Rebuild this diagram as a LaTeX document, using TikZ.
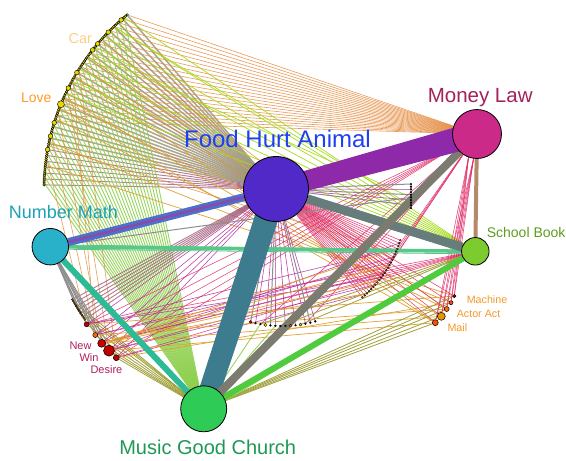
\documentclass[tikz,border=0pt]{standalone}
\usepackage{fontspec}
\setmainfont{Liberation Sans}
\usetikzlibrary{calc}
\pgfdeclarelayer{paper}
\pgfdeclarelayer{thin}
\pgfdeclarelayer{thick}
\pgfsetlayers{paper,thin,thick,main}

\definecolor{fhaFill}{HTML}{5029C8}
\definecolor{fhaText}{HTML}{1E40F0}
\definecolor{mlFill}{HTML}{CC2A88}
\definecolor{mlText}{HTML}{A3225E}
\definecolor{nmFill}{HTML}{29B1CA}
\definecolor{nmText}{HTML}{1CA3B4}
\definecolor{sbFill}{HTML}{7CCB2F}
\definecolor{sbText}{HTML}{5C9E1C}
\definecolor{mgcFill}{HTML}{2ECC57}
\definecolor{mgcText}{HTML}{1E9955}
\definecolor{bPurple}{HTML}{8E2AAA}
\definecolor{bTeal}{HTML}{3D7B8F}
\definecolor{bBlue}{HTML}{4C70CE}
\definecolor{bStripe}{HTML}{8A4AA6}
\definecolor{bSlate}{HTML}{667D7B}
\definecolor{bGray}{HTML}{7B7B70}
\definecolor{bSea}{HTML}{2DBB96}
\definecolor{bMint}{HTML}{58C88A}
\definecolor{bLime}{HTML}{4FCB3D}
\definecolor{bTan}{HTML}{B58A68}
\definecolor{lGB}{HTML}{9E9679}
\definecolor{lOr}{HTML}{E58A3C}
\definecolor{lGr}{HTML}{8FD14F}
\definecolor{lYG}{HTML}{A6DE1E}
\definecolor{lMar}{HTML}{A05A7A}
\definecolor{lGold}{HTML}{E2A233}
\definecolor{lPink}{HTML}{E0306A}
\definecolor{lMag}{HTML}{B02A9A}
\definecolor{lOl}{HTML}{A0A03A}
\definecolor{lGray}{HTML}{8E8E8E}
\definecolor{dotY}{HTML}{E8D800}
\definecolor{carText}{HTML}{FFCF87}
\definecolor{loveText}{HTML}{FF9B2A}
\definecolor{wordRed}{HTML}{B02060}
\definecolor{wordOr}{HTML}{F59A2A}

\begin{document}
\begin{tikzpicture}[x=1pt,y=-1pt,
  hub/.style={circle,draw=black,line width=0.8pt,inner sep=0pt},
  bead/.style={circle,draw=black,line width=0.4pt,inner sep=0pt,minimum size=2.6pt,fill=dotY},
  grain/.style={circle,draw=black,line width=0.3pt,inner sep=0pt,minimum size=2pt,fill=orange!70!black},
  ball/.style={circle,draw=black,line width=0.5pt,inner sep=0pt},
  lgb/.style={draw=lGB,line width=1.5pt,opacity=.85},
  lor/.style={draw=lOr,line width=0.6pt,opacity=.85},
  lgr/.style={draw=lGr,line width=0.9pt,opacity=.9},
  lyg/.style={draw=lYG,line width=0.7pt},
  lmar/.style={draw=lMar,line width=0.9pt,opacity=.8},
  lgold/.style={draw=lGold,line width=0.7pt},
  lpink/.style={draw=lPink,line width=0.55pt,opacity=.9},
  lmag/.style={draw=lMag,line width=0.55pt,opacity=.9},
  lol/.style={draw=lOl,line width=0.8pt},
  lgray/.style={draw=lGray,line width=1pt},
  wordB/.style={font=\fontsize{11}{11}\selectfont,text=wordRed,anchor=base west},
  wordM/.style={font=\fontsize{10.7}{11}\selectfont,text=wordOr,anchor=base west}]

\begin{pgfonlayer}{paper}
  \fill[white] (0,0) rectangle (566,461);
\end{pgfonlayer}
\useasboundingbox (0,0) rectangle (566,461);

% hubs
\node[hub,fill=fhaFill,minimum size=65pt] (fha) at (276,189) {};
\node[hub,fill=mlFill,minimum size=49pt] (ml) at (477,134) {};
\node[hub,fill=nmFill,minimum size=36.5pt] (nm) at (50.3,246.7) {};
\node[hub,fill=sbFill,minimum size=27.5pt] (sb) at (475.3,251.3) {};
\node[hub,fill=mgcFill,minimum size=46pt] (mgc) at (203.7,408.8) {};

% hub labels
\node[font=\fontsize{24}{24}\selectfont,text=fhaText,anchor=base] (fhaLab) at (277.5,147.7) {Food Hurt Animal};
\node[font=\fontsize{20.5}{21}\selectfont,text=mlText,anchor=base] (mlLab) at (480.2,102.3) {Money Law};
\node[font=\fontsize{18}{18}\selectfont,text=nmText,anchor=base] (nmLab) at (63.3,218.3) {Number Math};
\node[font=\fontsize{14}{14}\selectfont,text=sbText,anchor=base west] (sbLab) at (483.3,237.3) {School Book};
\node[font=\fontsize{20}{20}\selectfont,text=mgcText,anchor=base] (mgcLab) at (207.7,454.3) {Music Good Church};

% outer arc of small words
\foreach \i in {0,...,99}{
  \pgfmathsetmacro\th{181.3+0.5*\i}
  \node[bead] (a\i) at ([shift={(\th:226)}]270,190) {};
}
\foreach \i in {95,86,78,74,60,51,32,25,18}{
  \node[bead,minimum size=4.6pt] (A\i) at (a\i) {};
}
\node[bead,minimum size=7pt] (loveDot) at (a42) {};
\node[font=\fontsize{14.5}{15}\selectfont,text=carText,anchor=base west] (carLab) at (65,43.3) {Car};
\node[font=\fontsize{14}{14}\selectfont,text=loveText,anchor=base east] (loveLab) at (55,102.3) {Love};

% lower-left run of the same arc
\foreach \k in {0,...,12}{
  \pgfmathsetmacro\th{151-0.5*\k}
  \node[grain] (l\k) at ([shift={(\th:226)}]270,190) {};
}
\node[ball,fill=red!75!black,minimum size=5pt] (n1) at (86.7,324.3) {};
\node[ball,fill=orange!80!red,minimum size=5pt] (n2) at (95.3,335) {};
\node[ball,fill=red!80!black,minimum size=8pt] (n3) at (101.7,343.3) {};
\node[ball,fill=red!75!black,minimum size=11pt] (n4) at (109,350.7) {};
\node[ball,fill=red!75!black,minimum size=6pt] (n5) at (116.3,357.7) {};
\node[wordB] (newLab) at (66,349.3) {New};
\node[wordB] (winLab) at (76,361) {Win};
\node[wordB] (desLab) at (87,373) {Desire};

% right-hand group
\node[ball,fill=red!60!black,minimum size=3.4pt] (r1) at (454.3,296) {};
\node[ball,fill=orange!60!red,minimum size=4pt] (r2) at (451,302.7) {};
\node[ball,fill=orange!85!red,minimum size=5pt] (r3) at (446.7,309) {};
\node[ball,fill=orange!70!yellow!90!black,minimum size=8pt] (r4) at (441.3,316.3) {};
\node[ball,fill=orange!60!red,minimum size=6pt] (r5) at (435.3,322.7) {};
\node[wordM] (macLab) at (463.3,303.3) {Machine};
\node[wordM] (actLab) at (453.3,317.3) {Actor Act};
\node[wordM] (mailLab) at (444,331.7) {Mail};

% inner rings of tiny words
\foreach \k in {0,...,9}{
  \node[grain,fill=black] (c\k) at (411,{184+\k*24/9}) {};
}
\foreach \k in {0,...,23}{
  \pgfmathsetmacro\th{17+\k*33/23}
  \node[grain] (b\k) at ([shift={(\th:120.5)}]285,205) {};
}
\foreach \k in {0,...,13}{
  \pgfmathsetmacro\th{104.9-\k*30.7/13}
  \node[grain,fill=black] (d\k) at ([shift={(\th:122)}]282,204) {};
}
\node[grain,fill=red!80!black,minimum size=3pt] (D0) at (d0) {};
\node[grain,fill=dotY,minimum size=3.4pt] (D3) at (d3) {};
\node[grain,fill=orange,minimum size=3pt] (D8) at (d8) {};
\node[grain,fill=dotY,minimum size=3pt] (D10) at (d10) {};

% thin connectors
\begin{pgfonlayer}{thin}
  \foreach \i in {21,24,...,99} \draw[lgb] (a\i) -- (fha);
  \foreach \i in {0,3,...,18} \draw[lmar] (a\i) -- (fha);
  \foreach \i in {33,36,...,99} \draw[lor] (a\i) -- (ml);
  \foreach \i in {1,4,...,97} \draw[lgr] (a\i) -- (mgc);
  \foreach \i in {48,55,...,97} \draw[lyg] (a\i) -- (sb);
  \foreach \i/\k in {72/5,90/8} \draw[lyg] (a\i) -- (c\k);
  \foreach \i/\k in {10/1,22/2,34/3,46/4,58/5,70/3,40/5} \draw[lgold] (a\i) -- (r\k);
  \foreach \i/\k in {14/1,26/2,38/3,50/4,62/5,56/2} \draw[lor] (a\i) -- (n\k);
  \foreach \i/\k in {20/4,44/10,64/12,80/7} \draw[lor] (a\i) -- (b\k);

  \foreach \k in {0,2,...,12} \draw[lmar] (l\k) -- (fha);
  \foreach \k in {1,5,9} \draw[lol] (l\k) -- (mgc);
  \foreach \k in {1,...,5} \draw[lgray] (nm) -- (n\k);
  \foreach \k in {3,8} \draw[lgray] (nm) -- (l\k);

  \foreach \k in {1,...,5}{
    \draw[lpink] (n\k) -- (ml.210);
    \draw[lpink] (n\k) -- (sb);
    \draw[lol] (n\k) -- (mgc);
    \draw[lmag] (fha) -- (n\k);
  }
  \foreach \k/\j in {1/3,2/8,3/12,4/17,5/21,1/14,3/6,4/1} \draw[lmag] (n\k) -- (b\j);
  \foreach \k/\j in {1/1,2/3,3/4,4/5,5/2} \draw[lgold] (n\k) -- (r\j);

  \foreach \k in {0,...,23} \draw[lpink] (fha) -- (b\k);
  \foreach \k in {1,3,...,13} \draw[lmag] (fha) -- (d\k);
  \foreach \k in {0,4,12} \draw[lgray] (fha) -- (d\k);
  \foreach \k in {0,4,8} \draw[lgray] (fha) -- (c\k);
  \foreach \k in {2,6} \draw[lmag] (fha) -- (c\k);
  \foreach \k in {1,...,5} \draw[lpink] (fha) -- (r\k);

  \foreach \k in {1,...,5}{
    \draw[lpink] (ml.250) -- (r\k);
    \draw[lpink] (ml.262) -- (r\k);
    \draw[lol] (mgc) -- (r\k);
  }
  \foreach \k in {2,8,14,20} \draw[lpink] (ml) -- (b\k);
  \foreach \k in {2,7,11} \draw[lpink] (ml) -- (d\k);
  \draw[lgr] (mgc.20) -- (sb.200);
  \draw[lgr] (mgc.30) -- (sb.215);
  \draw[bMint,line width=0.8pt] (nm.5) -- (sb.175);
  \draw[bMint,line width=0.8pt] (nm.-8) -- (sb.190);
  \draw[lgray] (nm) -- (c5);
  \foreach \k in {2,6,10} \draw[lol] (sb) -- (d\k);
  \foreach \k in {3,9,15,21} \draw[lgold] (b\k) -- (n3);
  \foreach \k in {2,5} \draw[lgr] (d\k) -- (mgc);
\end{pgfonlayer}

% heavy connectors
\begin{pgfonlayer}{thick}
  \draw[bMint,line width=3.5pt] (nm) -- (sb);
  \draw[bTan,line width=4pt] (ml) -- (sb);
  \draw[bSea,line width=6pt] (nm) -- (mgc);
  \draw[bLime,line width=6pt] (mgc) -- (sb);
  \draw[bSlate,line width=9pt] (fha) -- (sb);
  \draw[bBlue,line width=8pt] (fha) -- (nm);
  \draw[bStripe,line width=2.5pt] (fha) -- (nm);
  \fill[bTeal] ($(fha)!12pt!90:(mgc)$) -- ($(mgc)!10.5pt!-90:(fha)$)
     -- ($(mgc)!10.5pt!90:(fha)$) -- ($(fha)!12pt!-90:(mgc)$) -- cycle;
  \draw[bGray,line width=8pt] (ml) -- (mgc);
  \fill[bPurple] ($(fha)!9.5pt!90:(ml)$) -- ($(ml)!12.5pt!-90:(fha)$)
     -- ($(ml)!12.5pt!90:(fha)$) -- ($(fha)!9.5pt!-90:(ml)$) -- cycle;
\end{pgfonlayer}
\end{tikzpicture}
\end{document}
